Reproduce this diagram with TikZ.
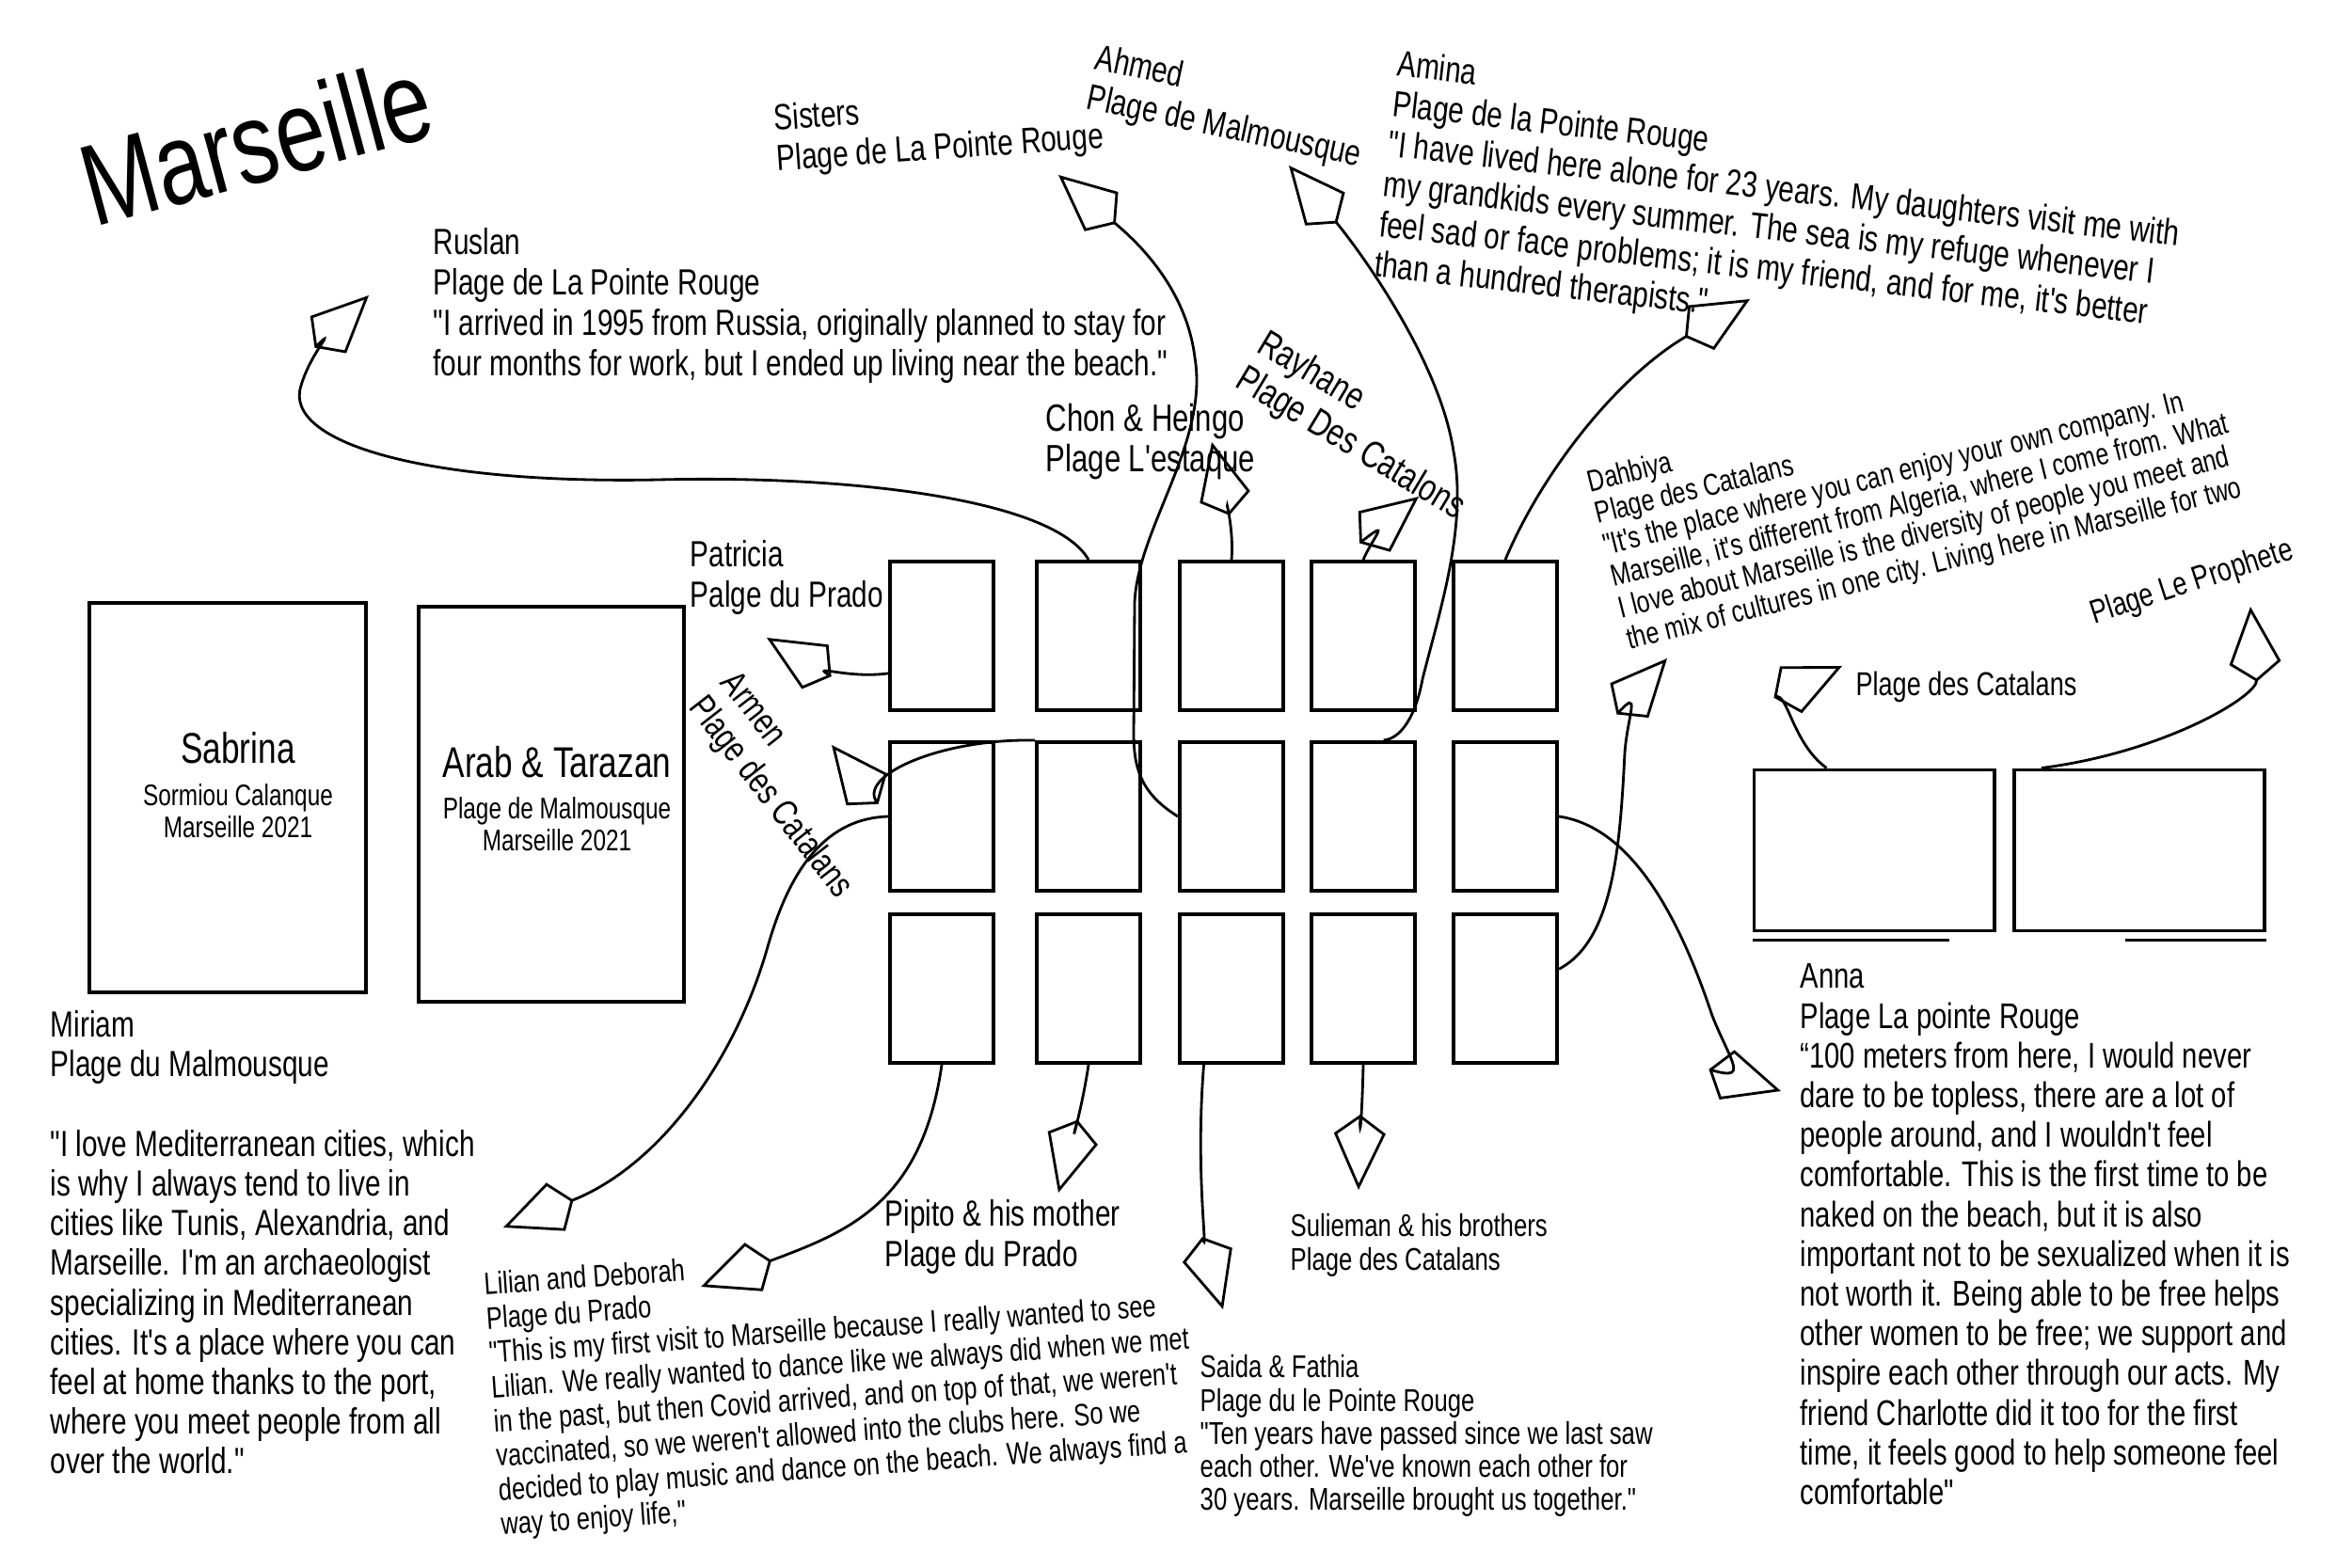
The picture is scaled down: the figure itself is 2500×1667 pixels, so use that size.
\documentclass[tikz,border=0pt]{standalone}
\usepackage{fontspec}
\setmainfont{Liberation Sans}[FakeStretch=0.77,Ligatures=TeXOff]
\usetikzlibrary{arrows.meta}

\begin{document}
\begin{tikzpicture}[x=0.01cm,y=-0.01cm,
  txt/.style={anchor=north west,align=left,inner sep=0pt,font=\fontsize{11}{12.2}\selectfont},
  smalltxt/.style={anchor=north west,align=left,inner sep=0pt,font=\fontsize{9}{10.2}\selectfont},
  cell/.style={draw,line width=1.1pt,minimum width=1.1cm,minimum height=1.58cm,inner sep=0pt},
  photo/.style={draw,line width=1.1pt,inner sep=0pt},
  conn/.style={line width=0.8pt,-{Kite[open,length=8mm,width=5.5mm]}}]
  \useasboundingbox (0,0) rectangle (2500,1667);
  % title
  \node[rotate=15,font=\fontsize{35}{38}\selectfont] (title) at (272,150) {Marseille};
  % grid of photos
  \foreach \c/\x in {1/1001,2/1157,3/1309,4/1449,5/1600}
    \foreach \r/\y in {1/676,2/868,3/1051}
      \node[cell] (c\r\c) at (\x,\y) {};
  % big frames
  \node[photo,minimum width=2.93cm,minimum height=4.13cm] (sabrinabox) at (242,848) {};
  \node[photo,minimum width=2.81cm,minimum height=4.19cm] (arabbox) at (586,855) {};
  \node[font=\fontsize{13}{14}\selectfont] (sabrina) at (253,795) {Sabrina};
  \node[font=\fontsize{9}{9.6}\selectfont,align=center] (sabrinaloc) at (253,862) {Sormiou Calanque\\Marseille 2021};
  \node[font=\fontsize{13}{14}\selectfont] (arab) at (592,810) {Arab \& Tarazan};
  \node[font=\fontsize{9}{9.6}\selectfont,align=center] (arabloc) at (592,876) {Plage de Malmousque\\Marseille 2021};
  % right frames
  \node[photo,minimum width=2.55cm,minimum height=1.71cm] (rb1) at (1992,904) {};
  \node[photo,minimum width=2.66cm,minimum height=1.71cm] (rb2) at (2274,904) {};
  \draw[line width=1.1pt] ([yshift=-0.8mm]rb1.south west) -- ([yshift=-0.8mm,xshift=-5mm]rb1.south east);
  \draw[line width=1.1pt] ([yshift=-0.8mm,xshift=12mm]rb2.south west) -- ([yshift=-0.8mm]rb2.south east);
  % labels
  \node[txt] (ruslan) at (460,242) {Ruslan\\Plage de La Pointe Rouge\\"I arrived in 1995 from Russia, originally planned to stay for\\four months for work, but I ended up living near the beach."};
  \node[txt,rotate=4] (sisters) at (821,110) {Sisters\\Plage de La Pointe Rouge};
  \node[txt,rotate=-12] (ahmed) at (1168,45) {Ahmed\\Plage de Malmousque};
  \node[txt,rotate=-6.5] (amina) at (1487,52) {Amina\\Plage de la Pointe Rouge\\"I have lived here alone for 23 years. My daughters visit me with\\my grandkids every summer. The sea is my refuge whenever I\\feel sad or face problems; it is my friend, and for me, it's better\\than a hundred therapists."};
  \node[txt,font=\fontsize{11.5}{12.5}\selectfont] (chon) at (1111,428) {Chon \& Heingo\\Plage L'estaque};
  \node[txt,rotate=-31,font=\fontsize{11.5}{12.5}\selectfont] (rayhane) at (1349,347) {Rayhane\\Plage Des Catalons};
  \node[txt] (patricia) at (733,574) {Patricia\\Palge du Prado};
  \node[txt,rotate=-52] (armen) at (786,709) {Armen\\Plage des Catalans};
  \node[smalltxt,rotate=14,font=\fontsize{9.2}{9.8}\selectfont] (dahbiya) at (1684,500) {Dahbiya\\Plage des Catalans\\"It's the place where you can enjoy your own company. In\\Marseille, it's different from Algeria, where I come from. What\\I love about Marseille is the diversity of people you meet and\\the mix of cultures in one city. Living here in Marseille for two};
  \node[rotate=18,font=\fontsize{10}{11}\selectfont] (prophete) at (2330,620) {Plage Le Prophete};
  \node[font=\fontsize{10}{11}\selectfont] (catalans) at (2090,730) {Plage des Catalans};
  \node[txt,font=\fontsize{11}{12}\selectfont] (miriam) at (53,1074) {Miriam\\Plage du Malmousque\\[12pt]"I love Mediterranean cities, which\\is why I always tend to live in\\cities like Tunis, Alexandria, and\\Marseille. I'm an archaeologist\\specializing in Mediterranean\\cities. It's a place where you can\\feel at home thanks to the port,\\where you meet people from all\\over the world."};
  \node[smalltxt,rotate=4,font=\fontsize{9.4}{10.4}\selectfont] (lilian) at (513,1352) {Lilian and Deborah\\Plage du Prado\\"This is my first visit to Marseille because I really wanted to see\\Lilian. We really wanted to dance like we always did when we met\\in the past, but then Covid arrived, and on top of that, we weren't\\vaccinated, so we weren't allowed into the clubs here. So we\\decided to play music and dance on the beach. We always find a\\way to enjoy life,"};
  \node[txt] (pipito) at (940,1275) {Pipito \& his mother\\Plage du Prado};
  \node[smalltxt,font=\fontsize{9.5}{10}\selectfont] (sulieman) at (1371,1290) {Sulieman \& his brothers\\Plage des Catalans};
  \node[smalltxt,font=\fontsize{9.5}{10}\selectfont] (saida) at (1275,1440) {Saida \& Fathia\\Plage du le Pointe Rouge\\"Ten years have passed since we last saw\\each other. We've known each other for\\30 years. Marseille brought us together."};
  \node[txt,font=\fontsize{10.8}{12}\selectfont] (anna) at (1913,1024) {Anna\\Plage La pointe Rouge\\“100 meters from here, I would never\\dare to be topless, there are a lot of\\people around, and I wouldn't feel\\comfortable. This is the first time to be\\naked on the beach, but it is also\\important not to be sexualized when it is\\not worth it. Being able to be free helps\\other women to be free; we support and\\inspire each other through our acts. My\\friend Charlotte did it too for the first\\time, it feels good to help someone feel\\comfortable"};
  % arrow ends
  \coordinate (tRus) at (392,314);
  \coordinate (tSis) at (1125,186);
  \coordinate (tAhm) at (1370,176);
  \coordinate (tAmi) at (1860,318);
  \coordinate (tChon) at (1288,470);
  \coordinate (tRay) at (1508,528);
  \coordinate (tPat) at (815,678);
  \coordinate (tArm) at (884,792);
  \coordinate (tMir) at (535,1305);
  \coordinate (tLil) at (745,1368);
  \coordinate (tPip) at (1125,1268);
  \coordinate (tSai) at (1300,1392);
  \coordinate (tSul) at (1444,1265);
  \coordinate (tAnn) at (1893,1160);
  \coordinate (tDah) at (1772,700);
  \coordinate (tCat) at (1958,708);
  \coordinate (tPro) at (2392,645);
  % connectors
  \draw[conn] (c12.north) .. controls (1120,530) and (900,505) .. (700,510) .. controls (450,515) and (300,470) .. (320,410) .. controls (330,375) and (360,345) .. (tRus);
  \draw[conn] (c23.west) .. controls (1215,845) and (1205,820) .. (1205,780) -- (1206,640) .. controls (1210,560) and (1285,470) .. (1270,380) .. controls (1260,300) and (1200,250) .. (tSis);
  \draw[conn] (c24.75) .. controls (1490,785) and (1505,760) .. (1512,722) .. controls (1530,650) and (1560,560) .. (1545,480) .. controls (1530,380) and (1440,260) .. (tAhm);
  \draw[conn] (c15.north) .. controls (1640,500) and (1720,400) .. (tAmi);
  \draw[conn] (c13.north) .. controls (1312,560) and (1300,520) .. (tChon);
  \draw[conn] (c14.north) .. controls (1460,570) and (1480,550) .. (tRay);
  \draw[conn] (c11.215) .. controls (900,722) and (860,705) .. (tPat);
  \draw[conn] (c22.north west) .. controls (1000,785) and (910,825) .. (tArm);
  \draw[conn] (c21.west) .. controls (880,870) and (840,920) .. (815,1010) .. controls (780,1130) and (700,1240) .. (tMir);
  \draw[conn] (c31.south) .. controls (980,1280) and (900,1310) .. (tLil);
  \draw[conn] (c32.south) .. controls (1150,1180) and (1135,1230) .. (tPip);
  \draw[conn] (c33.250) .. controls (1270,1250) and (1285,1340) .. (tSai);
  \draw[conn] (c34.south) .. controls (1448,1180) and (1445,1220) .. (tSul);
  \draw[conn] (c25.east) .. controls (1740,880) and (1790,990) .. (1820,1080) .. controls (1840,1130) and (1860,1150) .. (tAnn);
  \draw[conn] (c35.20) .. controls (1715,1000) and (1722,900) .. (1727,800) .. controls (1730,760) and (1745,730) .. (tDah);
  \draw[conn] (rb1.120) .. controls (1905,790) and (1900,735) .. (tCat);
  \draw[conn] (rb2.140) .. controls (2300,800) and (2400,740) .. (tPro);
\end{tikzpicture}
\end{document}
